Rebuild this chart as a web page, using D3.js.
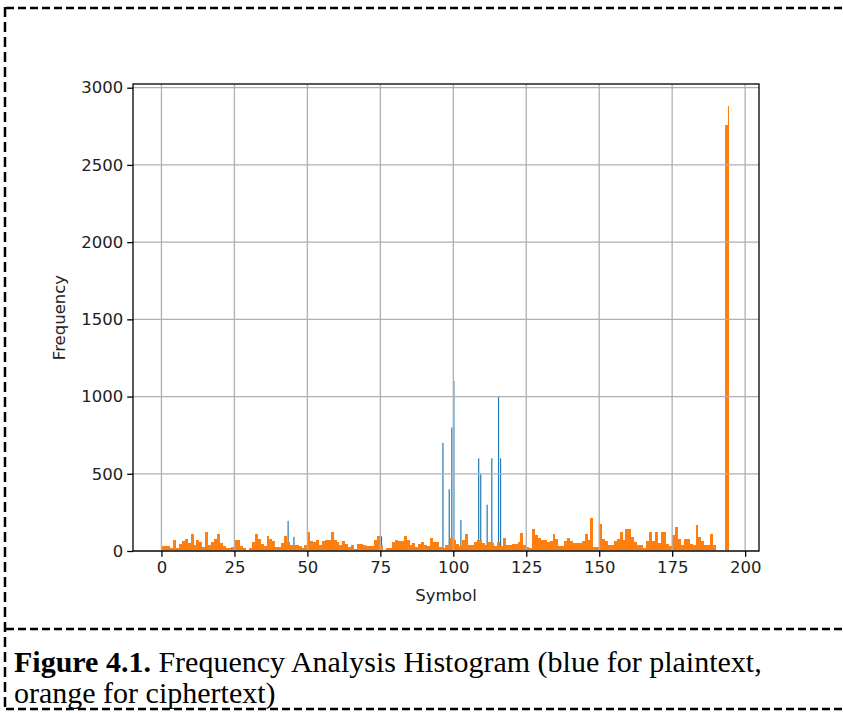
<!DOCTYPE html>
<html>
<head>
<meta charset="utf-8">
<script src="https://cdn.jsdelivr.net/npm/d3@7"></script>
<style>
  body { margin: 0; background: #fff; }
  svg { display: block; }
</style>
</head>
<body>
<div id="chart"></div>
<script>
// ciphertext counts, index = symbol (one bin per symbol)
const cipherCounts = [
  30, 30, 30, 18, 70, 22, 48, 62, 75, 55,
  112, 40, 72, 58, 28, 123, 40, 60, 78, 112,
  50, 30, 20, 20, 28, 73, 70, 30, 19, 9,
  20, 60, 112, 80, 47, 30, 97, 80, 62, 26,
  26, 50, 97, 58, 37, 37, 37, 30, 19, 40,
  123, 62, 58, 73, 40, 62, 69, 73, 123, 73,
  58, 41, 62, 45, 25, 37, 15, 47, 47, 40,
  30, 32, 32, 73, 95, 37, 9, 20, 20, 58,
  73, 62, 62, 95, 73, 41, 54, 26, 47, 58,
  40, 30, 84, 58, 58, 26, 20, 37, 37, 86,
  69, 47, 30, 69, 112, 37, 37, 58, 69, 69,
  54, 41, 58, 54, 30, 58, 30, 84, 41, 41,
  47, 47, 60, 116, 37, 26, 20, 140, 101, 84,
  73, 73, 60, 62, 112, 80, 32, 32, 62, 86,
  62, 54, 54, 54, 62, 112, 69, 215, 26, 26,
  172, 80, 65, 41, 41, 62, 80, 123, 69, 140,
  140, 90, 58, 37, 37, 19, 62, 123, 65, 123,
  52, 123, 123, 47, 30, 101, 155, 80, 37, 75,
  75, 47, 40, 166, 90, 62, 37, 40, 112, 41,
  0, 0, 0, 2760
];

// thin top of the last ciphertext bin
const cipherPeak = { x0: 194, x1: 194.35, count: 2880 };

// plaintext: only the bars that stand above the orange ones
const plainSymbols = [43.4, 45.4, 75.4, 96.45, 98.6, 99.5, 100.2, 102.6, 108.7, 109.4, 111.6, 113.2, 115.5, 116.2];
const plainCounts  = [195, 92, 95, 700, 400, 800, 1100, 200, 600, 500, 300, 600, 1000, 600];

const xTicks = [0, 25, 50, 75, 100, 125, 150, 175, 200];
const yTicks = [0, 500, 1000, 1500, 2000, 2500, 3000];

const width = 843;
const height = 713;
const plot = { left: 133, right: 759, top: 84, bottom: 551 };

const svg = d3.select('#chart')
  .append('svg')
  .attr('width', width)
  .attr('height', height);

// x limits like matplotlib: 5% margin round the data
const dataMax = 195;
const pad = dataMax * 0.05;
const xScale = d3.scaleLinear()
  .domain([-pad, dataMax + pad])
  .range([plot.left, plot.right]);

const yMax = d3.max([cipherPeak.count, ...cipherCounts, ...plainCounts]) * 1.05;
const yScale = d3.scaleLinear()
  .domain([0, yMax])
  .range([plot.bottom, plot.top]);

// blue bars (drawn first, orange on top)
const blueW = 0.4;
svg.append('g')
  .selectAll('rect')
  .data(plainSymbols.map((s, i) => ({ s, c: plainCounts[i] })))
  .join('rect')
  .attr('x', d => xScale(d.s - blueW / 2))
  .attr('width', d => xScale(d.s + blueW / 2) - xScale(d.s - blueW / 2))
  .attr('y', d => yScale(d.c))
  .attr('height', d => yScale(0) - yScale(d.c))
  .attr('fill', '#1f77b4');

// orange bars
const orange = svg.append('g').attr('shape-rendering', 'crispEdges');
orange.selectAll('rect')
  .data(cipherCounts.map((c, i) => ({ i, c })).filter(d => d.c > 0))
  .join('rect')
  .attr('x', d => xScale(d.i))
  .attr('width', d => xScale(d.i + 1) - xScale(d.i))
  .attr('y', d => yScale(d.c))
  .attr('height', d => yScale(0) - yScale(d.c))
  .attr('fill', '#ff7f0e');

orange.append('rect')
  .attr('x', xScale(cipherPeak.x0))
  .attr('width', xScale(cipherPeak.x1) - xScale(cipherPeak.x0))
  .attr('y', yScale(cipherPeak.count))
  .attr('height', yScale(0) - yScale(cipherPeak.count))
  .attr('fill', '#ff7f0e');

// grid (on top of the bars, as in matplotlib)
const grid = svg.append('g').attr('stroke', '#b0b0b0').attr('stroke-width', 1.3);
grid.selectAll('.vg')
  .data(xTicks)
  .join('line')
  .attr('x1', d => xScale(d)).attr('x2', d => xScale(d))
  .attr('y1', plot.top).attr('y2', plot.bottom);
grid.selectAll('.hg')
  .data(yTicks)
  .join('line')
  .attr('y1', d => yScale(d)).attr('y2', d => yScale(d))
  .attr('x1', plot.left).attr('x2', plot.right);

// axes
const xAxis = d3.axisBottom(xScale).tickValues(xTicks).tickSize(5.8).tickPadding(4)
  .tickFormat(d3.format('d'));
const yAxis = d3.axisLeft(yScale).tickValues(yTicks).tickSize(5.8).tickPadding(4)
  .tickFormat(d3.format('d'));

const gx = svg.append('g')
  .attr('transform', `translate(0, ${plot.bottom})`)
  .call(xAxis);
const gy = svg.append('g')
  .attr('transform', `translate(${plot.left}, 0)`)
  .call(yAxis);

[gx, gy].forEach(g => {
  g.select('.domain').remove();
  g.selectAll('line').attr('stroke', '#000').attr('stroke-width', 1.3);
  g.selectAll('text')
    .attr('fill', '#222')
    .style('font-family', '"DejaVu Sans", sans-serif')
    .style('font-size', '16.5px');
});

svg.append('rect')
  .attr('x', plot.left)
  .attr('y', plot.top)
  .attr('width', plot.right - plot.left)
  .attr('height', plot.bottom - plot.top)
  .attr('fill', 'none')
  .attr('stroke', '#000')
  .attr('stroke-width', 1.3);

svg.append('text')
  .attr('x', (plot.left + plot.right) / 2)
  .attr('y', 601)
  .attr('text-anchor', 'middle')
  .attr('fill', '#222')
  .style('font-family', '"DejaVu Sans", sans-serif')
  .style('font-size', '16.5px')
  .text('Symbol');

svg.append('text')
  .attr('transform', `translate(65, ${(plot.top + plot.bottom) / 2}) rotate(-90)`)
  .attr('text-anchor', 'middle')
  .attr('fill', '#222')
  .style('font-family', '"DejaVu Sans", sans-serif')
  .style('font-size', '16.5px')
  .text('Frequency');

// dashed frame
const frame = svg.append('g')
  .attr('stroke', '#000')
  .attr('stroke-width', 2.5)
  .attr('fill', 'none');
frame.append('line').attr('x1', 6).attr('x2', width).attr('y1', 8).attr('y2', 8).attr('stroke-dasharray', '8,4');
frame.append('line').attr('x1', 6).attr('x2', width).attr('y1', 629).attr('y2', 629).attr('stroke-dasharray', '8,4');
frame.append('line').attr('x1', 6).attr('x2', width).attr('y1', 709).attr('y2', 709).attr('stroke-dasharray', '8,4');
frame.append('line').attr('x1', 5).attr('x2', 5).attr('y1', 7).attr('y2', 710).attr('stroke-dasharray', '10,5');

// caption
const cap = svg.append('g')
  .style('font-family', '"Liberation Serif", "Times New Roman", serif')
  .style('font-size', '30px')
  .attr('fill', '#000');
const line1 = cap.append('text').attr('x', 14).attr('y', 672);
line1.append('tspan').attr('font-weight', 'bold').text('Figure 4.1.');
line1.append('tspan').text(' Frequency Analysis Histogram (blue for plaintext,');
cap.append('text').attr('x', 14).attr('y', 703).text('orange for ciphertext)');
</script>
</body>
</html>
